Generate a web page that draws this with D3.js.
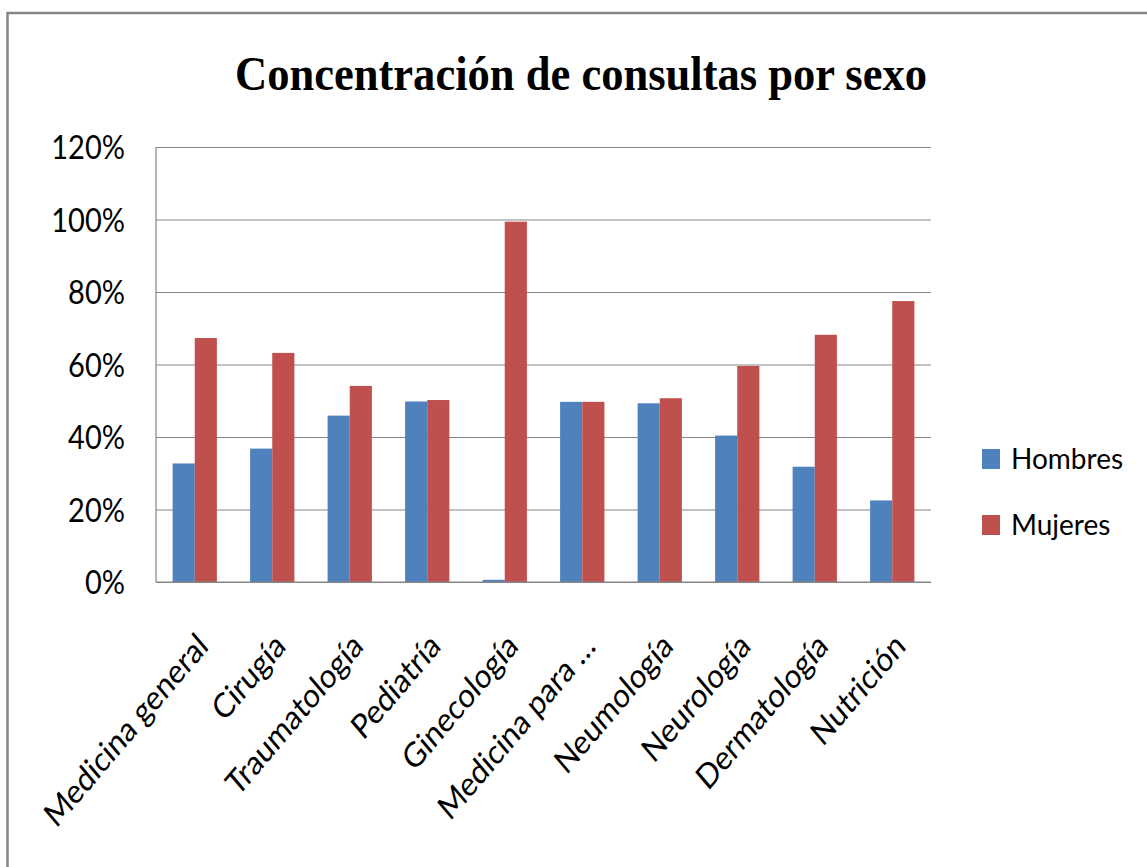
<!DOCTYPE html>
<html>
<head>
<meta charset="utf-8">
<script src="https://cdn.jsdelivr.net/npm/d3@7"></script>
<style>
  html, body { margin: 0; padding: 0; background: #fff; }
  svg { display: block; }
</style>
</head>
<body>
<svg id="chart" width="1147" height="867"></svg>
<script>
const title = "Concentración de consultas por sexo";
const categories = ["Medicina general", "Cirugía", "Traumatología", "Pediatría", "Ginecología",
  "Medicina para …", "Neumología", "Neurología", "Dermatología", "Nutrición"];
const seriesNames = ["Hombres", "Mujeres"];
const hombres = [0.327, 0.368, 0.459, 0.498, 0.006, 0.497, 0.493, 0.404, 0.318, 0.225];
const mujeres = [0.673, 0.632, 0.541, 0.502, 0.994, 0.497, 0.507, 0.596, 0.682, 0.775];
const yTicks = [0, 0.2, 0.4, 0.6, 0.8, 1.0, 1.2];
const colors = ["#4F81BD", "#C0504D"];

const svg = d3.select("#chart");
const font = "Lato, 'Open Sans', sans-serif";

// outer frame
svg.append("rect").attr("x", 7.5).attr("y", 13).attr("width", 1200).attr("height", 900)
  .attr("fill", "#fff").attr("stroke", "#868686").attr("stroke-width", 2.5);

const plot = { left: 156, right: 931, top: 147, bottom: 582 };
const x0 = d3.scaleBand().domain(categories).range([plot.left, plot.right])
  .paddingInner(1.5 / 3.5).paddingOuter(0.75 / 3.5);
const x1 = d3.scaleBand().domain(seriesNames).range([0, x0.bandwidth()]);
const y = d3.scaleLinear().domain([0, 1.2]).range([plot.bottom, plot.top]);

// title
svg.append("text")
  .attr("transform", "translate(581,90) scale(1,1.15)")
  .attr("text-anchor", "middle")
  .attr("font-family", "'Liberation Serif', 'Times New Roman', serif")
  .attr("font-weight", "bold").attr("font-size", 42)
  .attr("textLength", 692).attr("lengthAdjust", "spacingAndGlyphs")
  .attr("fill", "#000").text(title);

// gridlines
const yAxis = d3.axisLeft(y).tickValues(yTicks).tickSize(-(plot.right - plot.left))
  .tickFormat(d3.format(".0%")).tickPadding(30);
const gy = svg.append("g").attr("transform", `translate(${plot.left},0)`).call(yAxis);
gy.select(".domain").remove();
gy.selectAll(".tick line").attr("stroke", "#868686").attr("stroke-width", 1.2);
gy.selectAll(".tick text").remove();

// y labels
svg.append("g").selectAll("text").data(yTicks).join("text")
  .attr("transform", d => `translate(125,${y(d)}) scale(1,1.15)`)
  .attr("text-anchor", "end").attr("dy", "0.36em")
  .attr("font-family", font).attr("font-size", 29).attr("fill", "#000")
  .text(d => d3.format(".0%")(d));

// bars
const data = categories.map((c, i) => ({ cat: c, vals: [hombres[i], mujeres[i]] }));
const groups = svg.append("g").selectAll("g").data(data).join("g")
  .attr("transform", d => `translate(${x0(d.cat)},0)`);
groups.selectAll("rect").data(d => d.vals.map((v, j) => ({ s: seriesNames[j], v, j })))
  .join("rect")
  .attr("x", d => x1(d.s)).attr("width", x1.bandwidth())
  .attr("y", d => y(d.v)).attr("height", d => y(0) - y(d.v))
  .attr("fill", d => colors[d.j]);

// axes lines
svg.append("line").attr("x1", plot.left).attr("x2", plot.left).attr("y1", plot.top).attr("y2", plot.bottom)
  .attr("stroke", "#868686").attr("stroke-width", 1.2);
svg.append("line").attr("x1", plot.left).attr("x2", plot.right).attr("y1", plot.bottom).attr("y2", plot.bottom)
  .attr("stroke", "#868686").attr("stroke-width", 1.2);

// x labels
svg.append("g").selectAll("text").data(categories).join("text")
  .attr("transform", d => `translate(${x0(d) + x0.bandwidth() / 2 + 15},648) scale(1,1.18) rotate(-45)`)
  .attr("text-anchor", "end")
  .attr("font-family", font).attr("font-size", 29).attr("fill", "#000")
  .text(d => d);

// legend
const leg = svg.append("g").selectAll("g").data(seriesNames).join("g")
  .attr("transform", (d, i) => `translate(982,${449 + i * 66})`);
leg.append("rect").attr("width", 18).attr("height", 20).attr("fill", (d, i) => colors[i]);
leg.append("text").attr("x", 29).attr("y", 20)
  .attr("font-family", font).attr("font-size", 28).attr("fill", "#000")
  .text(d => d);
</script>
</body>
</html>
